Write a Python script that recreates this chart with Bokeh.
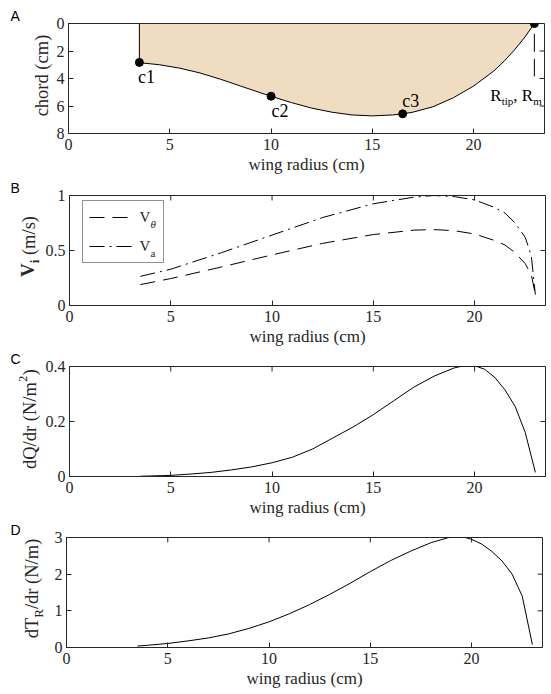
import math
from bokeh.plotting import figure
from bokeh.layouts import column, row
from bokeh.models import Range1d, Label, Legend, LegendItem, FixedTicker
from bokeh.embed import file_html
from bokeh.resources import INLINE
from bokeh.core.properties import value

# ---------------- data ----------------
x_ticks = [0, 5, 10, 15, 20]
x_tick_labels = ["0", "5", "10", "15", "20"]
x_label = "wing radius (cm)"

# Panel A: wing planform (chord vs radius)
wing_r = [3.5, 4.5, 5.5, 6.5, 7.5, 8.5, 9.5, 10, 11, 12, 13, 14, 15, 16, 16.5,
          17, 18, 19, 20, 21, 21.5, 22, 22.5, 23]
wing_chord = [2.85, 3.0, 3.25, 3.6, 4.05, 4.55, 5.05, 5.29, 5.75, 6.15, 6.45,
              6.65, 6.72, 6.65, 6.57, 6.45, 6.05, 5.4, 4.55, 3.45, 2.75, 1.95,
              1.05, 0.0]
marker_r = [3.5, 10.0, 16.5, 23.0]
marker_c = [2.83, 5.29, 6.57, 0.0]
marker_names = ["c1", "c2", "c3"]
a_yticks = [0, 2, 4, 6, 8]
a_ytick_labels = ["0", "2", "4", "6", "8"]

# Panel B: induced velocities
vel_r = [3.5, 5, 7.5, 10, 12.5, 15, 17, 18, 19, 20, 21, 21.5, 22, 22.5, 22.8, 23]
v_theta = [0.19, 0.245, 0.35, 0.46, 0.565, 0.645, 0.685, 0.69, 0.68, 0.65,
           0.59, 0.55, 0.48, 0.38, 0.28, 0.1]
v_a = [0.265, 0.33, 0.48, 0.64, 0.80, 0.925, 0.985, 1.0, 0.99, 0.96, 0.89,
       0.84, 0.75, 0.62, 0.45, 0.1]
b_yticks = [0, 0.5, 1]
b_ytick_labels = ["0", "0.5", "1"]

# Panel C: dQ/dr
c_r = [3.5, 4, 5, 6, 7, 8, 9, 10, 11, 12, 13, 14, 15, 16, 17, 18, 19, 19.5,
       20, 20.5, 21, 21.5, 22, 22.5, 23]
dq_dr = [0.001, 0.002, 0.004, 0.009, 0.015, 0.024, 0.035, 0.05, 0.07, 0.1,
         0.14, 0.18, 0.225, 0.275, 0.325, 0.365, 0.395, 0.403, 0.403, 0.39,
         0.36, 0.315, 0.255, 0.16, 0.015]
c_yticks = [0, 0.2, 0.4]
c_ytick_labels = ["0", "0.2", "0.4"]

# Panel D: dT_R/dr
d_r = [3.5, 4, 5, 6, 7, 8, 9, 10, 11, 12, 13, 14, 15, 16, 17, 18, 19, 19.5,
       20, 20.5, 21, 21.5, 22, 22.5, 23]
dt_dr = [0.04, 0.06, 0.11, 0.18, 0.26, 0.37, 0.52, 0.70, 0.92, 1.17, 1.45,
         1.75, 2.07, 2.37, 2.63, 2.86, 3.02, 3.03, 2.95, 2.82, 2.62, 2.36,
         2.0, 1.4, 0.08]
d_yticks = [0, 1, 2, 3]
d_ytick_labels = ["0", "1", "2", "3"]

# ---------------- style ----------------
INK = "#262626"
SERIF = "Liberation Serif"
SANS = "Liberation Sans"
TICK_FS = "16px"
XLAB_FS = "17px"
YLAB_FS = 18.5
FRAME_W, FRAME_H = 476, 110
BOTTOM = 44
LEFT_TOTAL = 66
RIGHT = 9
X_MAX = 23.5

EM = {'d': .5, 'T': .611, 'R': .667, '/': .278, 'r': .333, ' ': .25, '(': .333,
      'N': .722, 'm': .778, ')': .333, 's': .389, 'V': .722, 'i': .278,
      't': .278, 'p': .5, ',': .25, 'Q': .722, '2': .5}


def tw(s, size):
    return sum(EM.get(ch, .5) for ch in s) * size


def style_axis(ax):
    ax.axis_line_color = INK
    ax.major_tick_line_color = INK
    ax.major_tick_in = 5
    ax.major_tick_out = 0
    ax.minor_tick_in = 0
    ax.minor_tick_out = 0
    ax.minor_tick_line_color = None
    ax.major_label_text_color = INK
    ax.major_label_text_font = SERIF
    ax.major_label_text_font_size = TICK_FS


def make_main(y0, y1, yticks, ytick_labels, top_border, side_w):
    p = figure(frame_width=FRAME_W, frame_height=FRAME_H,
               x_range=Range1d(0, X_MAX), y_range=Range1d(y0, y1),
               output_backend="svg", toolbar_location=None,
               min_border_left=LEFT_TOTAL - side_w, min_border_right=RIGHT,
               min_border_top=top_border, min_border_bottom=BOTTOM)
    p.grid.visible = False
    p.outline_line_color = INK
    p.outline_line_alpha = 1
    p.outline_line_width = 1
    p.background_fill_color = "white"
    p.border_fill_color = "white"

    xa = p.xaxis[0]
    ya = p.yaxis[0]
    style_axis(xa)
    style_axis(ya)
    xa.ticker = FixedTicker(ticks=x_ticks)
    xa.major_label_overrides = dict(zip(x_ticks, x_tick_labels))
    xa.major_label_standoff = 5
    xa.axis_label = x_label
    xa.axis_label_text_font = SERIF
    xa.axis_label_text_font_size = XLAB_FS
    xa.axis_label_text_font_style = "normal"
    xa.axis_label_text_color = INK
    xa.axis_label_standoff = 2

    ya.ticker = FixedTicker(ticks=yticks)
    ya.major_label_overrides = dict(zip(yticks, ytick_labels))
    ya.major_label_standoff = 4

    # mirrored ticks on the top and right edges of the box
    dy = (y0 - y1) * 5.0 / FRAME_H
    dx = X_MAX * 5.0 / FRAME_W
    p.segment(x0=x_ticks, y0=[y1] * len(x_ticks), x1=x_ticks,
              y1=[y1 + dy] * len(x_ticks), line_color=INK, line_width=1)
    p.segment(x0=[X_MAX] * len(yticks), y0=yticks, x1=[X_MAX - dx] * len(yticks),
              y1=yticks, line_color=INK, line_width=1)
    return p


def make_side(w, top_border, letter):
    h = top_border + FRAME_H + BOTTOM
    s = figure(width=w, height=h, x_range=Range1d(0, w), y_range=Range1d(0, 1),
               output_backend="svg", toolbar_location=None,
               min_border_left=0, min_border_right=0,
               min_border_top=top_border, min_border_bottom=BOTTOM,
               x_axis_type=None, y_axis_type=None)
    s.outline_line_color = None
    s.grid.visible = False
    s.background_fill_color = "white"
    s.border_fill_color = "white"
    s.title.text = letter
    s.title.align = "left"
    s.title.offset = 10
    s.title.standoff = 0
    s.title.text_font = SANS
    s.title.text_font_size = "14px"
    s.title.text_font_style = "normal"
    s.title.text_color = "black"
    return s


def rot_label(p, segments, center_y):
    """segments: (text, size, style, x_center, gap_before)"""
    total = sum(tw(t, sz) + gap for t, sz, st, xc, gap in segments)
    y = center_y - total / 2
    for t, sz, st, xc, gap in segments:
        y += gap
        p.add_layout(Label(x=xc, y=y, x_units="screen", y_units="screen",
                           angle=math.pi / 2, text=t, text_font=SERIF,
                           text_font_size=f"{sz}px", text_font_style=st,
                           text_align="left", text_baseline="middle",
                           text_color=INK))
        y += tw(t, sz)


FRAME_MID = FRAME_H / 2

# ---------------- Panel A ----------------
WA = 53
sa = make_side(WA, 23, "A")
rot_label(sa, [("chord (cm)", YLAB_FS, "normal", 41, 0)], FRAME_MID + 4)
pa = make_main(8, 0, a_yticks, a_ytick_labels, 23, WA)
pa.patch([wing_r[0]] + wing_r, [0] + wing_chord, fill_color="#EFDCC1",
         line_color="black", line_width=1)
pa.segment(x0=[marker_r[-1]], y0=[0.75], x1=[marker_r[-1]], y1=[3.85],
           line_color="black", line_width=1, line_dash="18 7")
pa.scatter(marker_r, marker_c, size=8, marker="circle", color="black")
offs = [(7, -15), (9, -15), (8, 13)]
for name, r, c, (ox, oy) in zip(marker_names, marker_r, marker_c, offs):
    pa.add_layout(Label(x=r, y=c, x_offset=ox, y_offset=oy, text=name,
                        text_font=SERIF, text_font_size="18px",
                        text_align="center", text_baseline="middle",
                        text_color="black"))
rx, ry = marker_r[-1], marker_c[-1]
xo = -44
for t, sz, oy in [("R", 17, 0), ("tip", 11, -5), (", R", 17, 0), ("m", 11, -5)]:
    pa.add_layout(Label(x=rx, y=ry, x_offset=xo, y_offset=-72 + oy, text=t,
                        text_font=SERIF, text_font_size=f"{sz}px",
                        text_align="left", text_baseline="alphabetic",
                        text_color="black"))
    xo += tw(t, sz)

# ---------------- Panel B ----------------
WB = 42
sb = make_side(WB, 17, "B")
rot_label(sb, [("V", 19, "bold", 27, 0), ("i", 13, "bold", 33.5, 0),
               ("(m/s)", YLAB_FS, "normal", 28.5, 4.6)], FRAME_MID + 3)
pb = make_main(0, 1, b_yticks, b_ytick_labels, 17, WB)
r_th = pb.line(vel_r, v_theta, line_color="black", line_width=1, line_dash="15 8")
r_a = pb.line(vel_r, v_a, line_color="black", line_width=1, line_dash="15 5 2 5")
LEG_TOP = 103
LEG_H = 6 * 2 + 20 * 2 + 9
leg = Legend(items=[LegendItem(label=value("V"), renderers=[r_th]),
                    LegendItem(label=value("V"), renderers=[r_a])],
             location=(12.6, LEG_TOP - LEG_H), orientation="vertical", padding=6,
             spacing=9, margin=0, glyph_width=43, glyph_height=20,
             label_height=20, label_width=17, label_standoff=8,
             label_text_font=SERIF, label_text_font_size="15px",
             label_text_color=INK, border_line_color=INK, border_line_width=1,
             background_fill_alpha=0)
pb.add_layout(leg)
sub_x = 12.6 + 6 + 43 + 8 + tw("V", 15) + 0.5
for t, st, yy in [("θ", "italic", LEG_TOP - 6 - 10 - 5),
                  ("a", "normal", LEG_TOP - 6 - 30 - 9 - 5)]:
    pb.add_layout(Label(x=sub_x, y=yy, x_units="screen", y_units="screen",
                        text=t, text_font=SERIF, text_font_size="11px",
                        text_font_style=st, text_align="left",
                        text_baseline="middle", text_color=INK,
                        level="overlay"))

# ---------------- Panel C ----------------
WC = 42
sc = make_side(WC, 17, "C")
rot_label(sc, [("dQ/dr (N/m", YLAB_FS, "normal", 29, 0),
               ("2", 12, "normal", 22, 0.5),
               (")", YLAB_FS, "normal", 29, 0.5)], FRAME_MID + 1.5)
pc = make_main(0, 0.4, c_yticks, c_ytick_labels, 17, WC)
pc.line(c_r, dq_dr, line_color="black", line_width=1)

# ---------------- Panel D ----------------
WD = 48
sd = make_side(WD, 17, "D")
rot_label(sd, [("dT", YLAB_FS, "normal", 31.5, 0), ("R", 13, "normal", 38, 0),
               ("/dr (N/m)", YLAB_FS, "normal", 31.5, 0)], FRAME_MID + 3)
pd = make_main(0, 3, d_yticks, d_ytick_labels, 17, WD)
pd.line(d_r, dt_dr, line_color="black", line_width=1)

layout = column(row(sa, pa, spacing=0), row(sb, pb, spacing=0),
                row(sc, pc, spacing=0), row(sd, pd, spacing=0), spacing=0)
open("out.html", "w").write(file_html(layout, INLINE))
